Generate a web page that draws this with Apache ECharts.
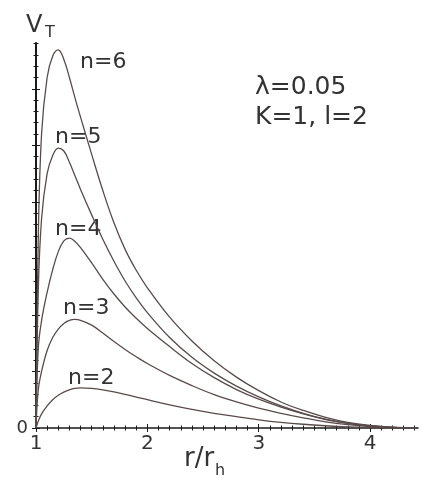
<!DOCTYPE html>
<html>
<head>
<meta charset="utf-8">
<script src="https://cdn.jsdelivr.net/npm/echarts@6/dist/echarts.min.js"></script>
<style>
  html, body { margin: 0; padding: 0; background: #fff; }
  #chart { width: 436px; height: 491px; }
</style>
</head>
<body>
<div id="chart"></div>
<script>
// r / r_h sample points
const rValues = [1, 1.02, 1.05, 1.1, 1.15, 1.2, 1.25, 1.3, 1.35, 1.4, 1.5, 1.6, 1.7, 1.8, 1.9, 2.0,
  2.2, 2.4, 2.6, 2.8, 3.0, 3.2, 3.4, 3.6, 3.8, 4.0, 4.2, 4.43]

// V_T (one unit = one major tick on the y axis)
const vN6 = [0, 3.3, 5.2, 6.2, 6.58, 6.69, 6.52, 6.2, 5.84, 5.5, 4.84, 4.2, 3.63, 3.16, 2.79, 2.48,
  1.96, 1.54, 1.19, 0.9, 0.66, 0.46, 0.31, 0.19, 0.1, 0.045, 0.013, 0]
const vN5 = [0, 2.4, 3.7, 4.5, 4.82, 4.95, 4.9, 4.7, 4.46, 4.22, 3.77, 3.34, 2.95, 2.6, 2.3, 2.04,
  1.6, 1.25, 0.97, 0.74, 0.55, 0.39, 0.26, 0.155, 0.08, 0.035, 0.01, 0]
const vN4 = [0, 1.4, 1.9, 2.4, 2.8, 3.12, 3.31, 3.36, 3.3, 3.19, 2.92, 2.63, 2.37, 2.14, 1.94, 1.76,
  1.44, 1.14, 0.89, 0.68, 0.51, 0.37, 0.25, 0.15, 0.08, 0.035, 0.01, 0]
const vN3 = [0, 0.67, 1.0, 1.37, 1.6, 1.75, 1.85, 1.905, 1.92, 1.905, 1.82, 1.68, 1.53, 1.39, 1.26, 1.14,
  0.93, 0.75, 0.59, 0.46, 0.35, 0.26, 0.18, 0.11, 0.06, 0.026, 0.008, 0]
const vN2 = [0, 0.12, 0.25, 0.39, 0.5, 0.58, 0.635, 0.675, 0.7, 0.71, 0.7, 0.675, 0.64, 0.595, 0.548, 0.5,
  0.41, 0.33, 0.26, 0.2, 0.145, 0.1, 0.066, 0.04, 0.02, 0.008, 0.002, 0]

const seriesNames = ['n=2', 'n=3', 'n=4', 'n=5', 'n=6']
const xTickLabels = ['1', '2', '3', '4']
const yTickLabels = ['0']

const X_MIN = 1
const X_MAX = 4.43
const Y_MAX = 6.81
const LINE = '#5a4b4b'
const AXIS = '#1a1a1a'
const FONT = '"DejaVu Sans"'

function steps(from, to, step) {
  const out = []
  for (let i = 0; from + i * step <= to + 1e-9; i++) {
    out.push(+(from + i * step).toFixed(4))
  }
  return out
}

const xMajor = steps(1, 4, 1)
const xMinor = steps(1, 4.4, 0.1)
const yMajor = steps(0, 6, 1)
const yMinor = steps(0, 6.8, 0.2)

// extra axes that only draw ticks, so ticks can cross the axis line
function tickAxis(kind, values, inside, length) {
  return {
    type: 'value',
    min: kind === 'x' ? X_MIN : 0,
    max: kind === 'x' ? X_MAX : Y_MAX,
    position: kind === 'x' ? 'bottom' : 'left',
    axisLine: { show: false, onZero: false },
    axisTick: { show: true, inside, length, customValues: values, lineStyle: { color: AXIS, width: 1 } },
    axisLabel: { show: false },
    splitLine: { show: false }
  }
}

const xAxes = [
  {
    type: 'value',
    min: X_MIN,
    max: X_MAX,
    position: 'bottom',
    axisLine: { onZero: false, lineStyle: { color: AXIS, width: 1.5 } },
    axisTick: { inside: false, length: 4, customValues: xMajor, lineStyle: { color: AXIS, width: 1 } },
    axisLabel: {
      customValues: xTickLabels.map(Number),
      margin: 6,
      color: '#333',
      fontSize: 20,
      fontFamily: FONT
    },
    splitLine: { show: false }
  },
  tickAxis('x', xMajor, true, 4),
  tickAxis('x', xMinor, false, 2.5),
  tickAxis('x', xMinor, true, 2.5)
]

const yAxes = [
  {
    type: 'value',
    min: 0,
    max: Y_MAX,
    position: 'left',
    axisLine: { onZero: false, lineStyle: { color: AXIS, width: 2 } },
    axisTick: { inside: false, length: 4, customValues: yMajor, lineStyle: { color: AXIS, width: 1 } },
    axisLabel: {
      customValues: yTickLabels.map(Number),
      margin: 8,
      color: '#333',
      fontSize: 18,
      fontFamily: FONT
    },
    splitLine: { show: false }
  },
  tickAxis('y', yMajor, true, 4),
  tickAxis('y', yMinor, false, 2.5),
  tickAxis('y', yMinor, true, 2.5)
]

const curves = [vN2, vN3, vN4, vN5, vN6]

const chart = echarts.init(document.getElementById('chart'), null, { renderer: 'canvas' })

function txt(text, left, top, size) {
  return {
    type: 'text',
    left,
    top,
    style: { text, font: size + 'px ' + FONT, fill: '#333' }
  }
}

chart.setOption({
  animation: false,
  backgroundColor: '#fff',
  grid: { left: 36, right: 18, top: 43, bottom: 63 },
  xAxis: xAxes,
  yAxis: yAxes,
  series: curves.map((vals, i) => ({
    name: seriesNames[i],
    type: 'line',
    xAxisIndex: 0,
    yAxisIndex: 0,
    smooth: 0.4,
    showSymbol: false,
    lineStyle: { color: LINE, width: 1.3 },
    data: rValues.map((r, j) => [r, vals[j]])
  })),
  graphic: [
    txt('V', 26, 14, 24),
    txt('T', 45, 25, 16),
    txt(seriesNames[4], 80, 51, 22),
    txt(seriesNames[3], 55, 126, 22),
    txt(seriesNames[2], 55, 218, 22),
    txt(seriesNames[1], 63, 297, 22),
    txt(seriesNames[0], 68, 367, 22),
    txt('λ=0.05', 255, 75, 25),
    txt('K=1, l=2', 255, 105, 25),
    txt('r/r', 184, 446, 26),
    txt('h', 215, 463, 16)
  ]
})
</script>
</body>
</html>
